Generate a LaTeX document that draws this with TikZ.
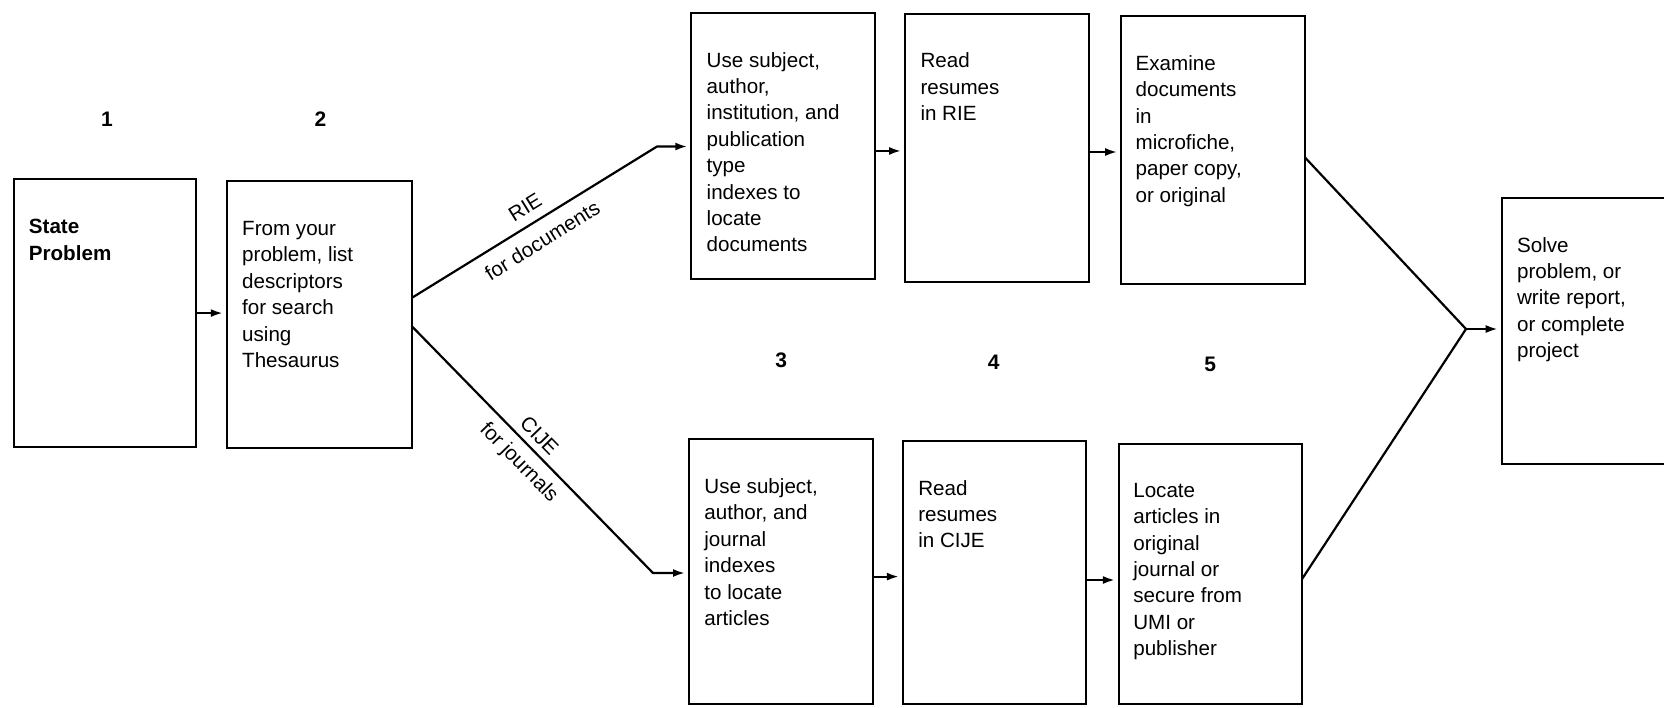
\documentclass[tikz,border=0pt]{standalone}
\usepackage{fontspec}
\setmainfont{Liberation Sans}
\usetikzlibrary{arrows.meta}
\newcommand{\firststrut}{\rule{0pt}{10pt}}
\begin{document}
\begin{tikzpicture}[x=0.5pt,y=-0.5pt,
  box/.style={draw=black, line width=1pt, inner sep=0pt, outer sep=0pt},
  txt/.style={anchor=north west, inner sep=0pt, align=left, font=\fontsize{10.3pt}{13.2pt}\selectfont},
  num/.style={inner sep=0pt, font=\fontsize{10.5pt}{12pt}\selectfont\bfseries},
  conn/.style={line width=1.1pt},
  arr/.style={conn, -{Latex[length=6pt,width=4pt]}, shorten >=2pt},
  lab/.style={sloped, font=\fontsize{10.3pt}{12pt}\selectfont}
]
\clip (0,0) rectangle (1664,707);

% boxes
\node[box, minimum width=91pt,    minimum height=133.75pt] (b1)  at (104.5,313.05) {};
\node[box, minimum width=92.4pt,  minimum height=133.5pt]  (b2)  at (319.2,314.5) {};
\node[box, minimum width=91.75pt, minimum height=133.35pt] (b3)  at (783.05,145.95) {};
\node[box, minimum width=91.75pt, minimum height=134pt]    (b4)  at (996.85,147.5) {};
\node[box, minimum width=91.9pt,  minimum height=134pt]    (b5)  at (1213.1,149.8) {};
\node[box, minimum width=91.8pt,  minimum height=132.5pt]  (b3b) at (780.8,571.5) {};
\node[box, minimum width=91.75pt, minimum height=131.3pt]  (b4b) at (994.65,572.7) {};
\node[box, minimum width=91.55pt, minimum height=130.15pt] (b5b) at (1210.45,573.85) {};
\node[box, minimum width=109.15pt,minimum height=132.85pt] (b6)  at (1610.85,331.15) {};

% texts
\node[txt, font=\fontsize{10.3pt}{13.2pt}\selectfont\bfseries] (t1) at ([shift={(7.5pt,-17pt)}]b1.north west) {\firststrut State\\Problem};
\node[txt] (t2) at ([shift={(7.5pt,-17pt)}]b2.north west) {\firststrut From your\\problem, list\\descriptors\\for search\\using\\Thesaurus};
\node[txt] (t3) at ([shift={(7.5pt,-17pt)}]b3.north west) {\firststrut Use subject,\\author,\\institution, and\\publication\\type\\indexes to\\locate\\documents};
\node[txt] (t4) at ([shift={(7.5pt,-17pt)}]b4.north west) {\firststrut Read\\resumes\\in RIE};
\node[txt] (t5) at ([shift={(7pt,-17pt)}]b5.north west) {\firststrut Examine\\documents\\in\\microfiche,\\paper copy,\\or original};
\node[txt] (t3b) at ([shift={(7.5pt,-17pt)}]b3b.north west) {\firststrut Use subject,\\author, and\\journal\\indexes\\to locate\\articles};
\node[txt] (t4b) at ([shift={(7.5pt,-16.6pt)}]b4b.north west) {\firststrut Read\\resumes\\in CIJE};
\node[txt] (t5b) at ([shift={(7pt,-16.6pt)}]b5b.north west) {\firststrut Locate\\articles in\\original\\journal or\\secure from\\UMI or\\publisher};
\node[txt] (t6) at ([shift={(7.5pt,-16.7pt)}]b6.north west) {\firststrut Solve\\problem, or\\write report,\\or complete\\project};

% step numbers
\node[num] (n1) at (106.9,119.5) {1};
\node[num] (n2) at (320.5,119.5) {2};
\node[num] (n3) at (781.3,360.7) {3};
\node[num] (n4) at (993.8,362) {4};
\node[num] (n5) at (1210.2,364) {5};

% bend points
\coordinate (rb) at (657,146.5);
\coordinate (cb) at (653,573);
\coordinate (m)  at (1466,329);

% connectors
\draw[arr] (b1.east) -- (b1.east -| b2.west);
\draw[arr] ([yshift=8.25pt]b2.east) -- (rb)
   node[lab, pos=0.5, anchor=south, inner sep=4.7pt] {RIE}
   node[lab, pos=0.49, anchor=north, inner sep=5.5pt] {for documents}
   -- (rb -| b3.west);
\draw[arr] ([yshift=-5.75pt]b2.east) -- (cb)
   node[lab, pos=0.486, anchor=south, inner sep=3.2pt] {CIJE}
   node[lab, pos=0.5, anchor=north, inner sep=4.2pt] {for journals}
   -- (cb -| b3b.west);
\draw[arr] ([yshift=-2.5pt]b3.east) -- ([yshift=-2.5pt]b3.east -| b4.west);
\draw[arr] ([yshift=-2.25pt]b4.east) -- ([yshift=-2.25pt]b4.east -| b5.west);
\draw[arr] ([yshift=-2.55pt]b3b.east) -- ([yshift=-2.55pt]b3b.east -| b4b.west);
\draw[arr] ([yshift=-3.65pt]b4b.east) -- ([yshift=-3.65pt]b4b.east -| b5b.west);
\draw[conn] ([yshift=-3.85pt]b5.east) -- (m);
\draw[conn] ([yshift=-2.6pt]b5b.east) -- (m);
\draw[arr] (m) -- (m -| b6.west);
\end{tikzpicture}
\end{document}
